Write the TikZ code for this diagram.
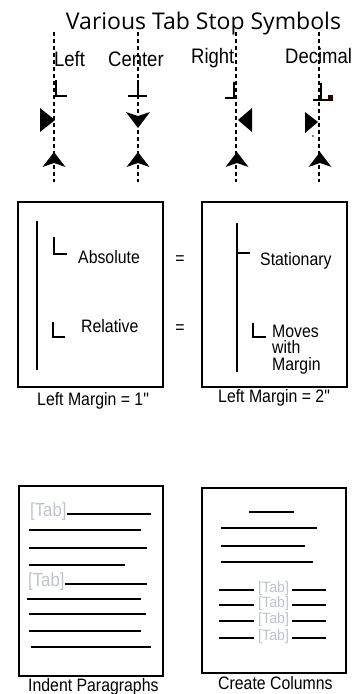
\documentclass[tikz,border=0pt]{standalone}
\usepackage{fontspec}
\setmainfont{Liberation Sans}
\newfontfamily\titlefont{Open Sans}
\newfontfamily\narrowfont[FakeStretch=0.88]{Liberation Sans}
\newfontfamily\slimfont[FakeStretch=0.95]{Liberation Sans}
\definecolor{tabgray}{RGB}{190,195,206}

\begin{document}
\begin{tikzpicture}[x=1pt,y=-1pt,
  guide/.style={line width=1.5pt, dash pattern=on 4pt off 3pt},
  tabmark/.style={line width=2pt},
  pagebox/.style={draw, line width=1.8pt},
  rule/.style={line width=1.5pt},
  textline/.style={line width=1.8pt},
  toplbl/.style={anchor=base west, inner sep=0, font=\narrowfont\fontsize{21}{21}\selectfont},
  lbl/.style={anchor=base west, inner sep=0, font=\narrowfont\fontsize{18}{18}\selectfont},
  tabword/.style={anchor=west, inner sep=0, text=tabgray},
]
\useasboundingbox (0,0) rectangle (363,694);

% heading
\node[anchor=base, inner sep=0, font=\titlefont\fontsize{23}{23}\selectfont] (title) at (203.5,29) {Various Tab Stop Symbols};

% tab stop guides
\foreach \x in {54,138,236,319} \draw[guide] (\x,32) -- (\x,182);

\node[toplbl] (lleft) at (54,66) {Left};
\node[toplbl] (lcenter) at (108,66) {Center};
\node[toplbl] (lright) at (191,63) {Right};
\node[toplbl] (ldec) at (285,63) {Decimal};

% ruler markers
\draw[tabmark] (55.5,80) -- (55.5,96) -- (67,96);
\draw[tabmark] (138,80) -- (138,96) (128,96) -- (147,96);
\draw[tabmark] (234,82) -- (234,98) -- (225,98);
\draw[tabmark] (321,83) -- (321,100) (313,100) -- (333,100);
\fill[black!80!red] (328,95) rectangle (333,99.5);

% side / drop triangles
\fill (40,108) -- (55,120) -- (40,132) -- cycle;
\fill (126,112) -- (138,116) -- (150,112) -- (138,128) -- cycle;
\fill (252,108) -- (252,132) -- (238,120) -- cycle;
\fill (305,112) -- (318,122) -- (305,133) -- cycle;
\fill[black!70!blue] (313,136) circle (0.9);

% up triangles
\foreach \x in {54,138,237,320}
  \fill (\x-11.5,167) -- (\x,163) -- (\x+11.5,167) -- (\x,152) -- cycle;

% absolute vs relative
\draw[pagebox] (18,202) rectangle (163,387);
\draw[rule] (37,221) -- (37,370);
\draw[rule] (54,237) -- (54,254) -- (67,254);
\node[lbl] (abs) at (78,263) {Absolute};
\draw[rule] (53,322) -- (53,337) -- (65,337);
\node[lbl] (rel) at (81,332) {Relative};
\node[lbl, anchor=base] (eq1) at (180,264) {=};
\node[lbl, anchor=base] (eq2) at (180,333) {=};

\draw[pagebox] (202,202) rectangle (347,387);
\draw[rule] (237,223) -- (237,372);
\draw[rule] (237,253) -- (250,253);
\node[lbl] (stat) at (260,265) {Stationary};
\draw[rule] (253,323) -- (253,337) -- (266,337);
\node[lbl] (mv1) at (272,337) {Moves};
\node[lbl] (mv2) at (272,353.5) {with};
\node[lbl] (mv3) at (272,370) {Margin};

\node[lbl] (cap1) at (37,405) {Left Margin = 1"};
\node[lbl] (cap2) at (218,402) {Left Margin = 2"};

% indent paragraphs
\draw[pagebox] (19,486) rectangle (163,676);
\node[tabword, font=\narrowfont\fontsize{19}{19}\selectfont] (t1) at (30,512) {[Tab]};
\draw[textline] (t1.east) ++(0,2) -- (151,514);
\draw[textline] (29,530) -- (141,530);
\draw[textline] (29,548) -- (147,548);
\draw[textline] (29,565) -- (125,565);
\node[tabword, font=\narrowfont\fontsize{19}{19}\selectfont] (t2) at (28,582) {[Tab]};
\draw[textline] (t2.east) ++(0,2) -- (147,584);
\draw[textline] (27,599) -- (141,599);
\draw[textline] (29,614) -- (146,614);
\draw[textline] (29,631) -- (141,631);
\draw[textline] (31,647) -- (151,647);
\node[lbl] (cap3) at (28,691) {Indent Paragraphs};

% create columns
\draw[pagebox] (202,488) rectangle (346,673);
\draw[textline] (249,512) -- (294,512);
\draw[textline] (221,528) -- (317,528);
\draw[textline] (221,546) -- (305,546);
\draw[textline] (221,562) -- (313,562);
\foreach \y/\n in {590/a,605/b,621/c,638/d} {
  \node[tabword, font=\slimfont\fontsize{15}{15}\selectfont] (c\n) at (258,\y-1.5) {[Tab]};
  \draw[textline] (219,\y) -- (254,\y);
  \draw[textline] (292,\y) -- (326,\y);
}
\node[lbl] (cap4) at (218,689) {Create Columns};
\end{tikzpicture}
\end{document}
